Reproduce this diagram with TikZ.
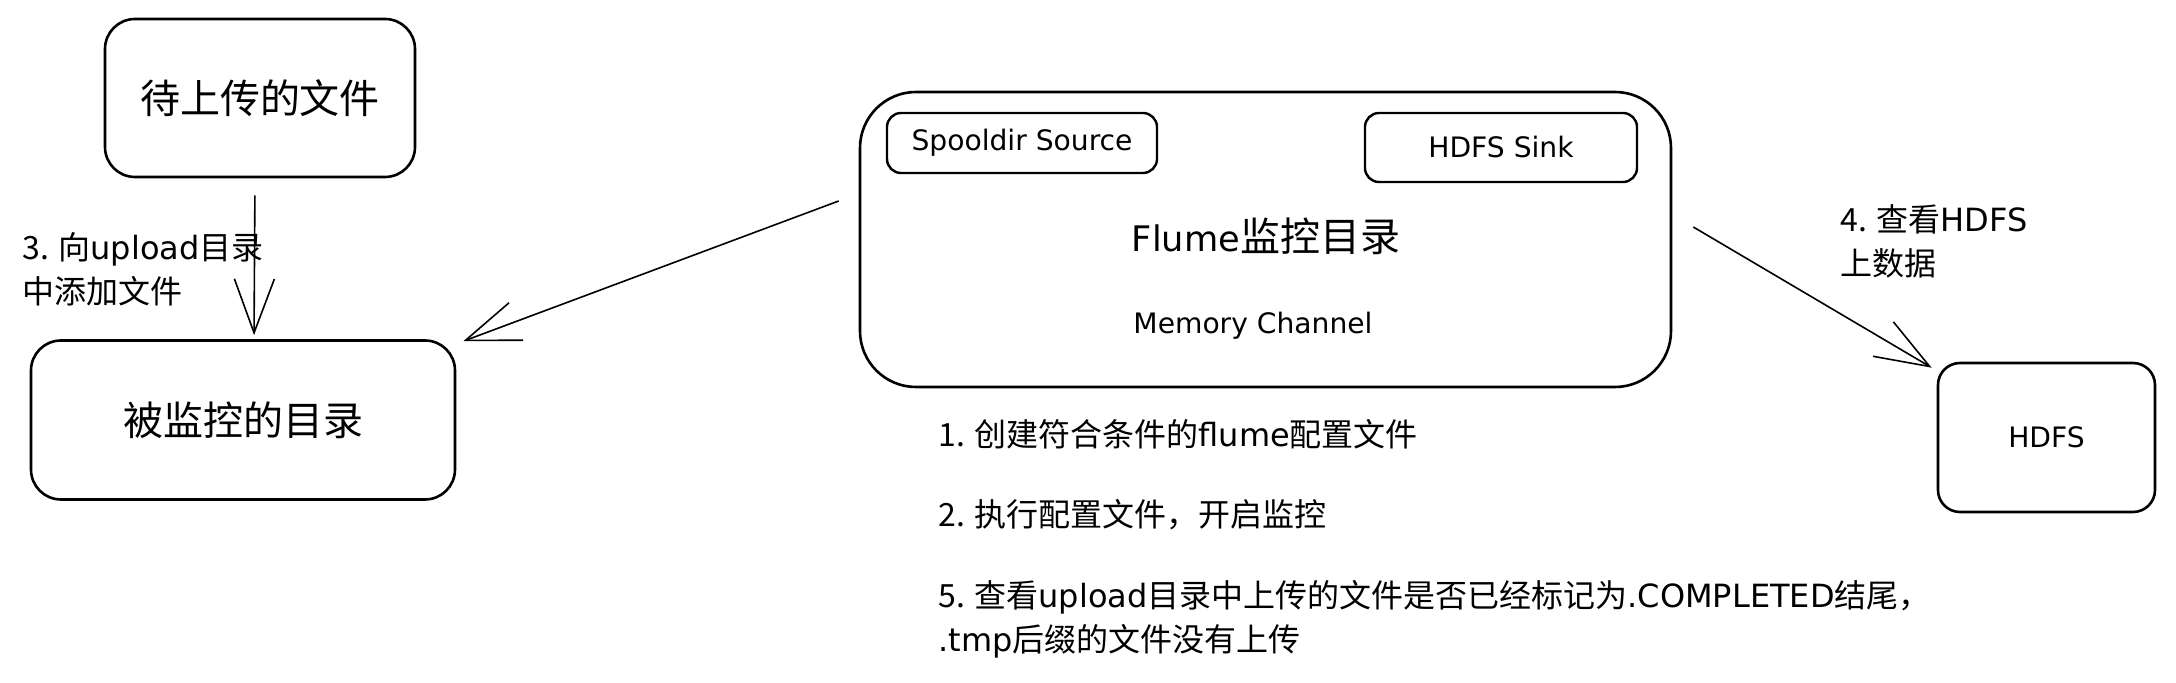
\documentclass[tikz,border=0pt]{standalone}
\usepackage{fontspec}
\setmainfont{Noto Sans CJK SC}
\newfontfamily\lat[Scale=0.88]{DejaVu Sans}
\newfontfamily\latn{DejaVu Sans}
\usetikzlibrary{arrows.meta}
\tikzset{
    x=0.5pt, y=-0.5pt, % one unit is one pixel of the sketch
    box/.style={draw, line width=1.3pt, rounded corners=15pt, inner sep=0pt, font=\fontsize{20}{24}\selectfont}, % big boxes
    smallbox/.style={draw, line width=1.2pt, rounded corners=7pt, inner sep=0pt, font=\lat\fontsize{16}{19}\selectfont}, % parts of the agent
    notetext/.style={align=left, anchor=west, inner sep=0pt, font=\fontsize{16}{22}\selectfont}, % steps
    arr/.style={-{Straight Barb[length=27pt,width=20pt]}, line width=0.8pt} % open arrow heads
}

\begin{document}
\begin{tikzpicture}
    \useasboundingbox (0,0) rectangle (2176,683);

    % Cajas
    \node[box, minimum width=155pt, minimum height=79pt] (upfile) at (260,98) {待上传的文件};
    \node[box, minimum width=212pt, minimum height=79.5pt] (watchdir) at (243,420) {被监控的目录};
    \node[box, rounded corners=28pt, minimum width=405.5pt, minimum height=147.5pt] (flume) at (1265.5,239.5) {};
    \node[smallbox, minimum width=135pt, minimum height=30pt] (src) at (1022,143) {Spooldir Source};
    \node[smallbox, minimum width=136pt, minimum height=34.5pt] (sink) at (1501,147.5) {HDFS Sink};
    \node[font=\fontsize{20}{24}\selectfont] (title) at (1266,236) {{\lat Flume}监控目录};
    \node[font=\lat\fontsize{16}{19}\selectfont] (chan) at (1253,326) {Memory Channel};
    \node[box, rounded corners=11pt, minimum width=108.5pt, minimum height=74.5pt, font=\lat\fontsize{16}{19}\selectfont] (hdfs) at (2046.5,437.5) {HDFS};

    % Pasos
    \node[notetext] (step3) at (22,269.5) {3. 向{\latn upload}目录\\中添加文件};
    \node[notetext] (step4) at (1840,241.5) {4. 查看{\latn HDFS}\\上数据};
    \node[notetext] (step1) at (938,434) {1. 创建符合条件的{\latn flume}配置文件};
    \node[notetext] (step2) at (938,515) {2. 执行配置文件，开启监控};
    \node[notetext] (step5) at (938,619) {5. 查看{\latn upload}目录中上传的文件是否已经标记为{\latn .COMPLETED}结尾，\\{\latn .tmp}后缀的文件没有上传};

    % Flechas
    \draw[arr, shorten <=8.5pt, shorten >=2pt] ([xshift=-2.5pt]upfile.south) -- ([xshift=5.5pt]watchdir.north);
    \draw[arr] ([xshift=-10pt,yshift=19.25pt]flume.west) -- ([xshift=3.5pt,yshift=-1pt]watchdir.north east);
    \draw[arr] ([xshift=10.5pt,yshift=6.25pt]flume.east) -- ([xshift=-2.5pt,yshift=-3pt]hdfs.north west);
\end{tikzpicture}
\end{document}
